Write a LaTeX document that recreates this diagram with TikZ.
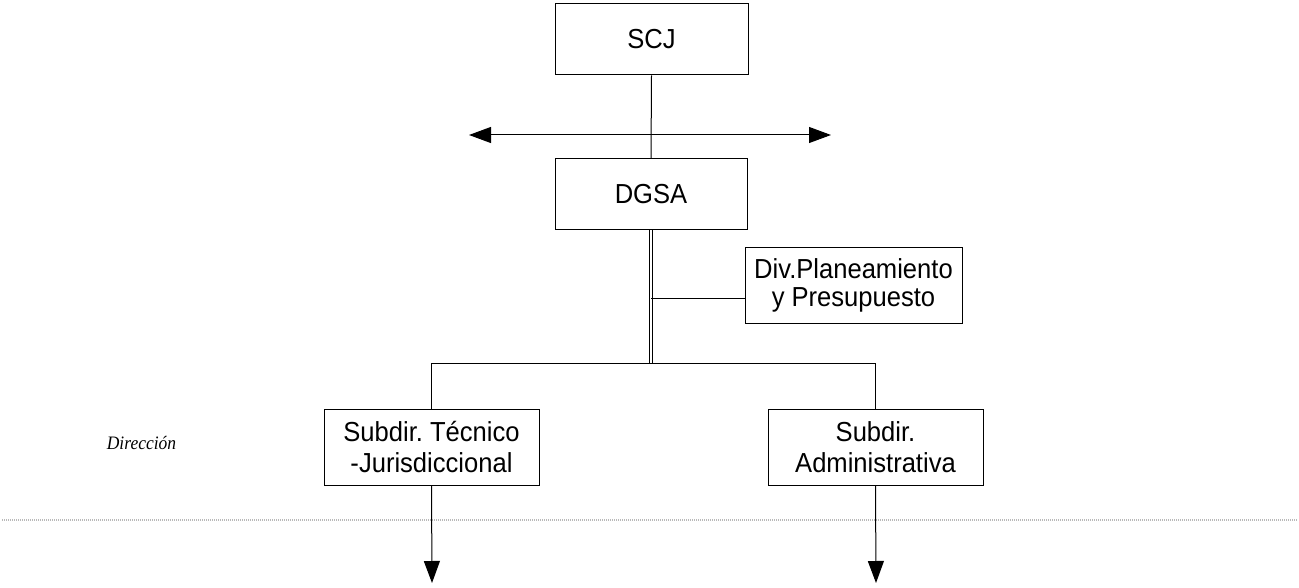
\documentclass[tikz,border=0pt]{standalone}
\usepackage{fontspec}
\setmainfont{Liberation Sans}
\newfontfamily\boxfont[FakeStretch=0.93]{Liberation Sans}
\newfontfamily\serifit[FakeStretch=0.92]{Liberation Serif}
\usetikzlibrary{arrows.meta}
\frenchspacing
\begin{document}
\begin{tikzpicture}[x=1pt,y=-1pt,
  box/.style={draw=black,line width=1pt,inner sep=0pt,align=center,
    font=\boxfont\fontsize{27.5}{31}\selectfont},
  conn/.style={draw=black,line width=1pt},
  arr/.style={conn,-{Triangle[length=22pt,width=16pt]}}]
\useasboundingbox (0,0) rectangle (1299,588);
\node[box,minimum width=193pt,minimum height=71pt] (scj) at (651.5,39.5) {SCJ};
\node[box,minimum width=192pt,minimum height=71pt] (dgsa) at (651,194.5) {DGSA};
\node[box,minimum width=217pt,minimum height=75pt,font=\boxfont\fontsize{27.5}{27.5}\selectfont] (div) at (853.5,285.5) {Div.Planeamiento\\y Presupuesto};
\node[box,minimum width=215pt,minimum height=76pt] (left) at (431.5,447) {Subdir.\ Técnico\\-Jurisdiccional};
\node[box,minimum width=215pt,minimum height=76pt] (right) at (875.5,447) {Subdir.\\Administrativa};
\node[font=\serifit\itshape\fontsize{19}{22}\selectfont] (dir) at (141.5,443) {Dirección};
\coordinate (aL) at (469,135);
\coordinate (aR) at (831,135);
\coordinate (aM) at (651,135);
\coordinate (bus) at (651,363);
\coordinate (dj) at (651,298);
\coordinate (dL) at (432,583);
\coordinate (dR) at (876,583);
\coordinate (sepL) at (2,520);
\coordinate (sepR) at (1297,520);
% separator
\draw[gray!55,line width=1.5pt,dash pattern=on 1pt off 1pt] (sepL) -- (sepR);
% SCJ to DGSA
\draw[conn] (scj.south) -- (dgsa.north);
\draw[arr] (aM) -- (aL);
\draw[arr] (aM) -- (aR);
% DGSA double line
\draw[black,line width=0.9pt,double=white,double distance=1.3pt] (dgsa.south) -- (bus);
\draw[conn] (dj) -- (dj -| div.west);
\draw[conn] (left.north) -- (left.north |- bus) -- (right.north |- bus) -- (right.north);
\draw[arr] (left.south) -- (dL);
\draw[arr] (right.south) -- (dR);
\end{tikzpicture}
\end{document}
